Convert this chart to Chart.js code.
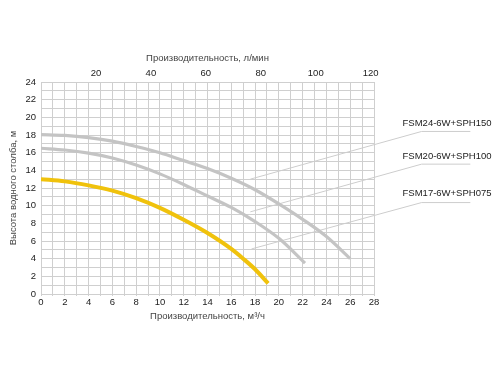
<!DOCTYPE html>
<html>
<head>
<meta charset="utf-8">
<script src="https://cdn.jsdelivr.net/npm/chart.js"></script>
<style>
	body{margin:0;background:#fff;}
</style>
</head>
<body>
<canvas id="myChart" width="500" height="375"></canvas>
<script>
//Dom 객체
const ctx = document.getElementById('myChart');

//----------------데이터---------------------
const seriesNames = ['FSM24-6W+SPH150', 'FSM20-6W+SPH100', 'FSM17-6W+SPH075'];

//FSM24-6W+SPH150 (위 회색)
const flow24 = [0, 2, 4, 6, 8, 10, 12, 14, 16, 18, 20, 22, 24, 26];
const head24 = [18.05, 17.95, 17.7, 17.3, 16.7, 16.0, 15.1, 14.2, 13.1, 11.8, 10.2, 8.45, 6.5, 4.0];

//FSM20-6W+SPH100 (가운데 회색)
const flow20 = [0, 2, 4, 6, 8, 10, 12, 14, 16, 18, 20, 22.2];
const head20 = [16.5, 16.3, 15.95, 15.4, 14.6, 13.6, 12.4, 11.1, 9.8, 8.2, 6.3, 3.5];

//FSM17-6W+SPH075 (노란색)
const flow17 = [0, 2, 4, 6, 8, 10, 12, 14, 16, 17, 18, 19.1];
const head17 = [13.0, 12.75, 12.3, 11.7, 10.85, 9.75, 8.4, 6.9, 5.1, 4.0, 2.8, 1.2];

//위쪽 축 (л/мин)
const topTicks = [20, 40, 60, 80, 100, 120];
const topMax = 121.2;

//라벨 선 (m3/h , m 값)
const leaderStartX = [17.6, 17.6, 17.7];
const leaderStartY = [13.0, 9.3, 5.1];
const leaderBendX = 32.0;
const leaderBendY = [18.4, 14.7, 10.35];
const leaderEndX = 36.1;
const labelX = 30.4;
const labelY = [19.27, 15.57, 11.34];

function toPoints(xs, ys){
	return xs.map((v, i) => ({x: v, y: ys[i]}));
}

const FONT = 'Liberation Sans, Arial, sans-serif';

//라벨 + 선 그리기
const leaderPlugin = {
	id: 'leaderLabels',
	beforeDatasetsDraw(chart){
		const c = chart.ctx;
		const xs = chart.scales.x;
		const ys = chart.scales.y;
		c.save();
		c.strokeStyle = '#cdcdcd';
		c.lineWidth = 1;
		seriesNames.forEach((name, i) => {
			c.beginPath();
			c.moveTo(xs.getPixelForValue(leaderStartX[i]), ys.getPixelForValue(leaderStartY[i]));
			c.lineTo(xs.getPixelForValue(leaderBendX), ys.getPixelForValue(leaderBendY[i]));
			c.lineTo(xs.getPixelForValue(leaderEndX), ys.getPixelForValue(leaderBendY[i]));
			c.stroke();
		});
		c.fillStyle = '#222';
		c.font = '9.5px ' + FONT;
		c.textAlign = 'left';
		c.textBaseline = 'middle';
		seriesNames.forEach((name, i) => {
			c.fillText(name, xs.getPixelForValue(labelX), ys.getPixelForValue(labelY[i]));
		});
		c.restore();
	}
};

new Chart(ctx, {
	type: 'line',
	data: {
		datasets: [
			{ label: seriesNames[0], data: toPoints(flow24, head24), borderColor: '#c4c4c4', borderWidth: 3.2 },
			{ label: seriesNames[1], data: toPoints(flow20, head20), borderColor: '#c4c4c4', borderWidth: 3.2 },
			{ label: seriesNames[2], data: toPoints(flow17, head17), borderColor: '#f0c20c', borderWidth: 4 }
		]
	},
	options: {
		responsive: false,
		animation: false,
		devicePixelRatio: 1,
		layout: { padding: { left: 0, right: 126, top: 42, bottom: 51 } },
		elements: {
			point: { radius: 0 },
			line: { cubicInterpolationMode: 'monotone', borderCapStyle: 'butt', fill: false }
		},
		plugins: {
			legend: { display: false },
			tooltip: { enabled: false }
		},
		scales: {
			x: {
				type: 'linear',
				position: 'bottom',
				min: 0, max: 28,
				afterFit: (s) => { s.height = 30; },
				grid: { color: '#cfcfcf', tickLength: 2 },
				border: { color: '#cfcfcf' },
				ticks: {
					stepSize: 1, autoSkip: false, maxRotation: 0, padding: 1,
					color: '#222', font: { family: FONT, size: 9.5 },
					callback: (v) => v % 2 === 0 ? v : ''
				},
				title: {
					display: true, text: 'Производительность, м³/ч',
					color: '#444', font: { family: FONT, size: 9.5 },
					padding: { top: 0, bottom: 2.3 }
				}
			},
			x2: {
				type: 'linear',
				position: 'top',
				min: 0, max: topMax,
				afterFit: (s) => { s.height = 40; },
				afterBuildTicks: (s) => { s.ticks = topTicks.map(v => ({value: v})); },
				grid: { drawOnChartArea: false, drawTicks: false },
				border: { display: false },
				ticks: { padding: 3, color: '#222', font: { family: FONT, size: 9.5 } },
				title: {
					display: true, text: 'Производительность, л/мин',
					color: '#444', font: { family: FONT, size: 9.5 },
					padding: { top: 10.6, bottom: 0 }
				}
			},
			y: {
				min: 0, max: 24,
				afterFit: (s) => { s.width = 41; },
				grid: { color: '#cfcfcf', drawTicks: false },
				border: { color: '#cfcfcf' },
				ticks: {
					stepSize: 1, autoSkip: false, padding: 5,
					color: '#222', font: { family: FONT, size: 9.5 },
					callback: (v) => v % 2 === 0 ? v : ''
				},
				title: {
					display: true, text: 'Высота водного столба, м',
					color: '#444', font: { family: FONT, size: 9.5 },
					padding: { top: 7.6, bottom: 0 }
				}
			}
		}
	},
	plugins: [leaderPlugin]
});
</script>
</body>
</html>
